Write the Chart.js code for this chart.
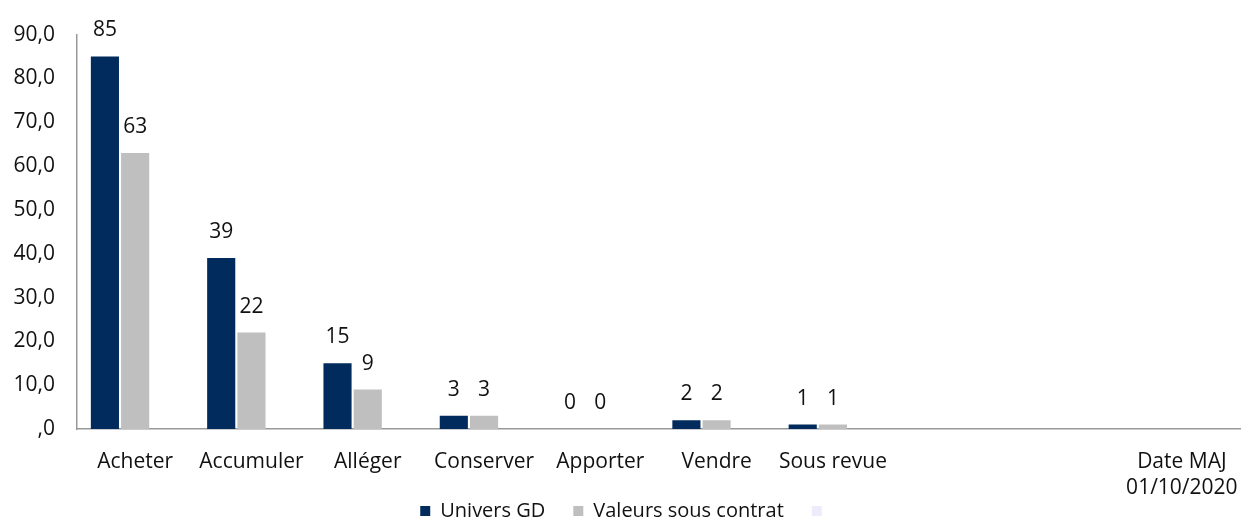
<!DOCTYPE html>
<html>
<head>
<meta charset="utf-8">
<script src="https://cdn.jsdelivr.net/npm/chart.js@4"></script>
<style>
  html, body { margin: 0; padding: 0; background: #fff; }
  #wrap { width: 1245px; height: 520px; position: relative; }
</style>
</head>
<body>
<div id="wrap"><canvas id="recoChart"></canvas></div>
<script>
"use strict";

// categories (last one is the update date, two lines)
const categories = ['Acheter', 'Accumuler', 'Alléger', 'Conserver', 'Apporter', 'Vendre', 'Sous revue', '', '', ['Date MAJ', '01/10/2020']];
const universGD = [85, 39, 15, 3, 0, 2, 1, null, null, null];
const valeursContrat = [63, 22, 9, 3, 0, 2, 1, null, null, null];
const dateSerie = [null, null, null, null, null, null, null, null, null, null];
const yTickLabels = [',0', '10,0', '20,0', '30,0', '40,0', '50,0', '60,0', '70,0', '80,0', '90,0'];

const FONT = "'Open Sans', Lato, sans-serif";

// simple value labels above bars (only the two first series)
const valueLabels = {
    id: 'valueLabels',
    afterDatasetsDraw(chart) {
        const ctx = chart.ctx;
        ctx.save();
        ctx.font = '21px ' + FONT;
        ctx.fillStyle = '#111';
        ctx.textAlign = 'center';
        ctx.textBaseline = 'middle';
        [0, 1].forEach(di => {
            const meta = chart.getDatasetMeta(di);
            meta.data.forEach((bar, i) => {
                const v = chart.data.datasets[di].data[i];
                if (v === null || v === undefined) return;
                ctx.fillText(String(v), bar.x, bar.y - 26);
            });
        });
        ctx.restore();
    }
};

new Chart(document.getElementById('recoChart'), {
    type: 'bar',
    data: {
        labels: categories,
        datasets: [
            { label: 'Univers GD', data: universGD, backgroundColor: '#002B5C' },
            { label: 'Valeurs sous contrat', data: valeursContrat, backgroundColor: '#BFBFBF' },
            { label: '', data: dateSerie, backgroundColor: '#EFEBFB' }
        ]
    },
    options: {
        responsive: true,
        maintainAspectRatio: false,
        animation: false,
        categoryPercentage: 0.78,
        barPercentage: 0.93,
        layout: { padding: { left: 12, right: 5, top: 20, bottom: -11 } },
        plugins: {
            tooltip: { enabled: false },
            legend: {
                position: 'bottom',
                labels: {
                    color: '#111',
                    boxWidth: 10,
                    boxHeight: 10,
                    padding: 28,
                    font: { family: FONT, size: 20 }
                }
            }
        },
        scales: {
            x: {
                grid: { display: false, drawTicks: false },
                border: { color: '#999', width: 1.5 },
                ticks: {
                    color: '#111',
                    padding: 20,
                    maxRotation: 0,
                    autoSkip: false,
                    font: { family: FONT, size: 21, lineHeight: 1.24 }
                },
                afterFit(scale) {
                    // date label's second line overflows into the legend band
                    scale.height = 44;
                    scale.paddingLeft = 0;
                    scale.paddingRight = 0;
                    scale._computeLabelArea = () => undefined;
                }
            },
            y: {
                min: 0,
                max: 90,
                grid: { display: false, drawTicks: false },
                border: { color: '#999', width: 1.5 },
                ticks: {
                    stepSize: 10,
                    color: '#111',
                    padding: 22,
                    font: { family: FONT, size: 21 },
                    callback: (value, index) => yTickLabels[index]
                },
                afterFit(scale) { scale.width = 65; }
            }
        }
    },
    plugins: [valueLabels]
});
</script>
</body>
</html>
